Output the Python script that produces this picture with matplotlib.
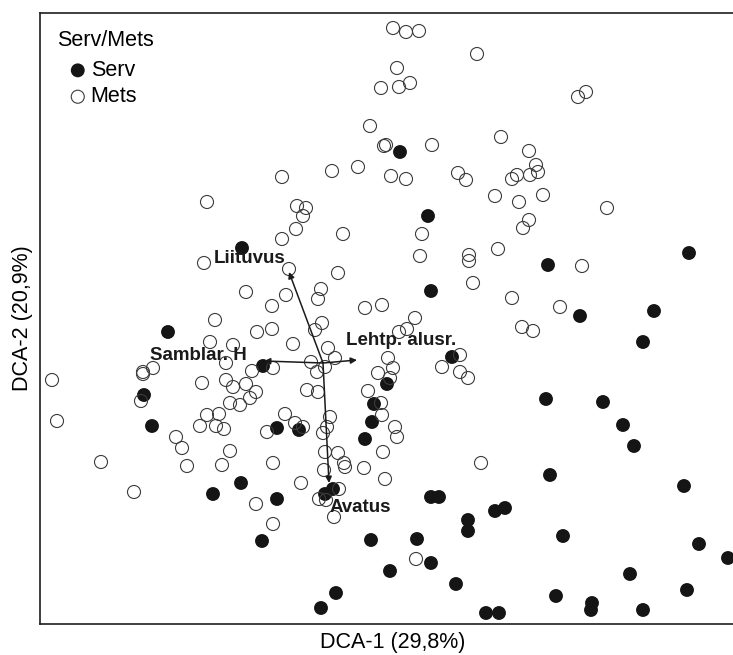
import numpy as np
import matplotlib
matplotlib.use("Agg")
import matplotlib.pyplot as plt

plt.rcParams['font.family'] = ['Liberation Sans', 'DejaVu Sans']

# DCA site scores, Mets (forest) sites
mets_x = [3.53, 3.66, 3.79, 4.37, 3.57, 3.41, 3.59, 3.70, 3.30, 3.44, 3.46, 3.92,
          2.42, 2.92, 3.18, 3.51, 3.66, 4.18, 4.26, 2.57, 2.66, 2.63, 5.38, 5.46,
          4.61, 4.89, 4.96, 4.77, 4.72, 4.90, 4.98, 4.55, 4.79, 5.03, 5.67, 4.89,
          4.83, 1.67, 4.58, 5.42, 4.72, 5.20, 4.82, 4.93, 3.82, 3.80, 4.29, 4.29,
          4.33, 2.56, 2.42, 3.03, 1.64, 2.49, 2.98, 2.06, 2.81, 2.78, 2.46, 2.32,
          3.25, 3.42, 3.75, 3.59, 3.67, 2.82, 2.75, 2.17, 2.32, 1.75, 1.70, 1.93,
          2.53, 2.88, 2.95, 2.71, 2.85, 2.77, 2.33, 1.86, 2.12, 1.03, 1.13, 1.03,
          0.12, 1.62, 1.86, 1.93, 2.06, 2.16, 1.01, 1.90, 2.00, 2.10, 1.67, 1.79,
          1.60, 1.76, 1.84, 1.36, 1.42, 1.90, 0.17, 0.61, 1.47, 1.82, 0.94, 2.67,
          2.78, 3.48, 3.38, 3.53, 3.50, 3.28, 3.41, 3.42, 3.55, 3.57, 4.20, 4.02,
          4.20, 4.28, 2.45, 2.55, 2.63, 2.27, 2.90, 2.87, 2.83, 2.85, 2.98, 3.43,
          3.04, 3.05, 2.84, 3.24, 3.45, 4.41, 2.33, 2.61, 2.16, 2.33, 2.99, 2.79,
          2.86, 2.94, 3.76]
mets_y = [5.96, 5.92, 5.93, 5.70, 5.56, 5.36, 5.37, 5.41, 4.98, 4.78, 4.79, 4.79,
          4.47, 4.53, 4.57, 4.48, 4.45, 4.51, 4.44, 4.18, 4.16, 4.08, 5.27, 5.32,
          4.87, 4.73, 4.59, 4.49, 4.45, 4.49, 4.52, 4.28, 4.22, 4.29, 4.16, 4.04,
          3.96, 4.22, 3.75, 3.58, 3.26, 3.17, 2.97, 2.93, 3.90, 3.68, 3.69, 3.63,
          3.41, 3.95, 3.85, 3.90, 3.61, 3.55, 3.51, 3.32, 3.35, 3.25, 3.29, 3.18,
          3.16, 3.19, 3.06, 2.92, 2.95, 3.01, 2.94, 2.92, 2.95, 3.04, 2.82, 2.79,
          2.80, 2.76, 2.66, 2.62, 2.57, 2.52, 2.56, 2.61, 2.53, 2.52, 2.56, 2.50,
          2.44, 2.41, 2.44, 2.37, 2.40, 2.32, 2.23, 2.21, 2.19, 2.26, 2.09, 2.10,
          1.98, 1.98, 1.95, 1.87, 1.76, 1.73, 2.03, 1.62, 1.58, 1.59, 1.32, 2.34,
          2.32, 2.66, 2.51, 2.56, 2.46, 2.33, 2.21, 2.09, 1.97, 1.87, 2.69, 2.57,
          2.52, 2.46, 2.10, 2.01, 1.97, 1.92, 2.07, 1.97, 1.91, 1.72, 1.71, 1.72,
          1.61, 1.57, 1.54, 1.56, 1.45, 1.61, 1.61, 1.41, 1.20, 1.00, 1.35, 1.25,
          1.24, 1.07, 0.65]

# DCA site scores, Serv (edge) sites
serv_x = [3.60, 3.88, 5.08, 6.49, 5.40, 6.14, 6.03, 5.06, 5.63, 5.83, 5.94, 5.10,
          6.44, 4.55, 4.65, 5.23, 6.59, 6.88, 5.90, 5.16, 6.47, 4.46, 4.59, 5.52,
          5.51, 6.03, 3.91, 2.02, 1.28, 2.23, 4.12, 3.47, 3.34, 3.32, 3.25, 1.04,
          1.12, 2.37, 2.59, 2.01, 1.73, 2.37, 2.85, 2.93, 2.22, 3.31, 3.77, 3.91,
          3.50, 4.16, 2.96, 2.81, 3.91, 3.99, 4.28, 4.28]
serv_y = [4.72, 4.08, 3.59, 3.71, 3.08, 3.13, 2.82, 2.25, 2.22, 1.99, 1.78, 1.49,
          1.38, 1.13, 1.16, 0.88, 0.80, 0.66, 0.50, 0.28, 0.34, 0.11, 0.11, 0.21,
          0.14, 0.14, 3.33, 3.76, 2.92, 2.58, 2.67, 2.40, 2.20, 2.02, 1.85, 2.29,
          1.98, 1.96, 1.94, 1.41, 1.30, 1.25, 1.30, 1.35, 0.83, 0.84, 0.85, 0.61,
          0.53, 0.40, 0.31, 0.16, 1.27, 1.27, 1.04, 0.93]

# environmental vectors
origin = (2.83, 2.61)
vec_names = ["Liituvus", "Lehtp. alusr.", "Samblar. H", "Avatus"]
vec_x = [2.49, 3.17, 2.24, 2.89]
vec_y = [3.52, 2.64, 2.63, 1.41]
lab_x = [1.74, 3.06, 1.10, 2.90]
lab_y = [3.66, 2.84, 2.69, 1.17]

fig = plt.figure(figsize=(7.33, 6.55), dpi=100)
ax = fig.add_axes([40/733, 31/655, 705/733, 611/655])

ax.scatter(serv_x, serv_y, s=100, c='#151515', edgecolors='none', zorder=3)
ax.scatter(mets_x, mets_y, s=88, facecolors='none', edgecolors='#3c3c3c',
           linewidths=0.8, zorder=4)

for i in range(len(vec_names)):
    ax.annotate("", xy=(vec_x[i], vec_y[i]), xytext=origin,
                arrowprops=dict(arrowstyle='-|>', lw=1.1, color='#1a1a1a',
                                mutation_scale=9, shrinkA=0, shrinkB=0),
                zorder=5)
    ax.text(lab_x[i], lab_y[i], vec_names[i], fontsize=13.5, fontweight='bold',
            ha='left', va='center', color='#1a1a1a', zorder=6)

ax.set_xlim(0, 7.05)
ax.set_ylim(0, 6.11)
ax.set_xticks([])
ax.set_yticks([])
for sp in ax.spines.values():
    sp.set_linewidth(1.2)
    sp.set_color('#1e1e1e')

ax.set_xlabel("DCA-1 (29,8%)", fontsize=15.5, labelpad=6)
ax.set_ylabel("DCA-2 (20,9%)", fontsize=15.5, labelpad=5)

# legend
ax.text(17/705, 1 - 28/611, "Serv/Mets", transform=ax.transAxes,
        fontsize=15.5, ha='left', va='center')
h1 = ax.scatter([], [], s=100, c='#151515', edgecolors='none')
h2 = ax.scatter([], [], s=88, facecolors='none', edgecolors='#3c3c3c', linewidths=0.8)
ax.legend([h1, h2], ["Serv", "Mets"], loc='upper left',
          bbox_to_anchor=(27/705, 1 - 47/611), frameon=False, fontsize=15.5,
          handlelength=1.0, handletextpad=0.1, labelspacing=0.25,
          borderpad=0, borderaxespad=0, scatterpoints=1)

fig.savefig("out.png", dpi=100)
